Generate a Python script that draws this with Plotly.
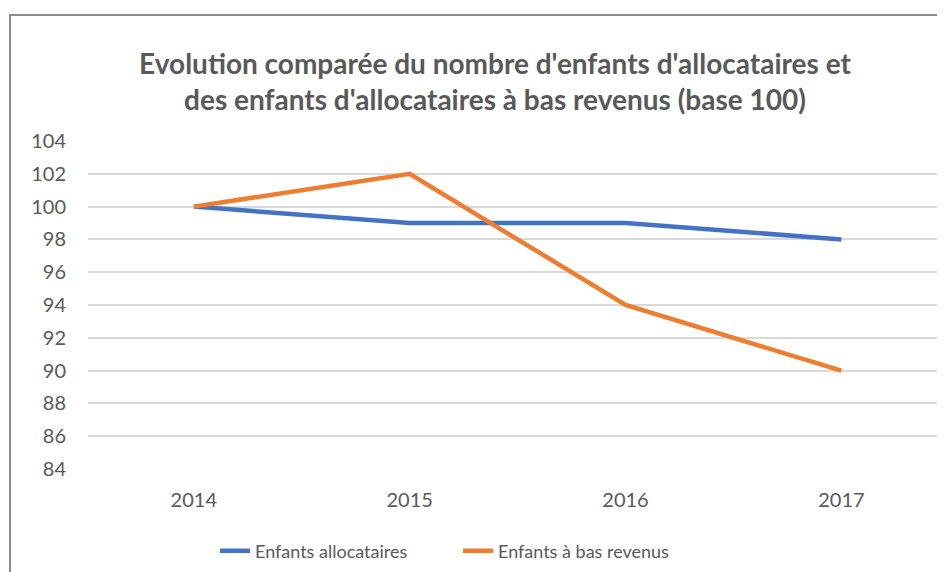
import plotly.graph_objects as go

years = ["2014", "2015", "2016", "2017"]
enfants_allocataires = [100, 99, 99, 98]
enfants_bas_revenus = [100, 102, 94, 90]
y_ticks = [84, 86, 88, 90, 92, 94, 96, 98, 100, 102, 104]

# page has an 8px body margin; work in figure coordinates (page - 8)
OFF = 8
W, H = 945 - OFF, 572 - OFF
L, T = 88 - OFF, 141 - OFF
BOTTOM = 469 - OFF
B = H - BOTTOM
pw = W - L
ph = BOTTOM - T


def px_x(p):
    return (p - OFF - L) / pw


def px_y(p):
    return (BOTTOM - (p - OFF)) / ph


FONT = "Lato"
GRAY = "#595959"

fig = go.Figure()
fig.add_trace(go.Scatter(x=years, y=enfants_allocataires, mode="lines",
                         name="Enfants allocataires",
                         line=dict(color="#4472C4", width=4.5)))
fig.add_trace(go.Scatter(x=years, y=enfants_bas_revenus, mode="lines",
                         name="Enfants à bas revenus",
                         line=dict(color="#ED7D31", width=4.5)))

fig.update_layout(
    width=W, height=H,
    margin=dict(l=L, r=0, t=T, b=B),
    paper_bgcolor="white", plot_bgcolor="white",
    font=dict(family=FONT, color=GRAY, size=18),
    title=dict(
        text="Evolution comparée du nombre d'enfants d'allocataires et<br>des enfants d'allocataires à bas revenus (base 100)",
        x=(495 - OFF) / W, xanchor="center", y=1 - (74 - OFF) / H, yanchor="middle",
        font=dict(family=FONT, size=28, color=GRAY, weight="bold"),
    ),
    xaxis=dict(type="category", range=[-0.49, 3.48], showgrid=False,
               showline=False, zeroline=False, ticks="",
               ticklabelstandoff=17, tickfont=dict(size=20, color=GRAY)),
    yaxis=dict(range=[84, 104], tickvals=y_ticks, showgrid=True,
               gridcolor="#D9D9D9", gridwidth=1.5, zeroline=False,
               showline=False, ticks="", ticklabelstandoff=21,
               tickfont=dict(size=20, color=GRAY)),
    legend=dict(orientation="h", x=px_x(215), xanchor="left",
                y=px_y(551), yanchor="middle",
                entrywidth=198, entrywidthmode="pixels",
                font=dict(size=18, color=GRAY)),
    showlegend=True,
    shapes=[dict(type="rect", xref="paper", yref="paper",
                 x0=px_x(10), x1=px_x(990), y0=px_y(15), y1=px_y(640),
                 line=dict(color="#8C8C8C", width=2), layer="below")],
)

fig.write_html("out.html")
